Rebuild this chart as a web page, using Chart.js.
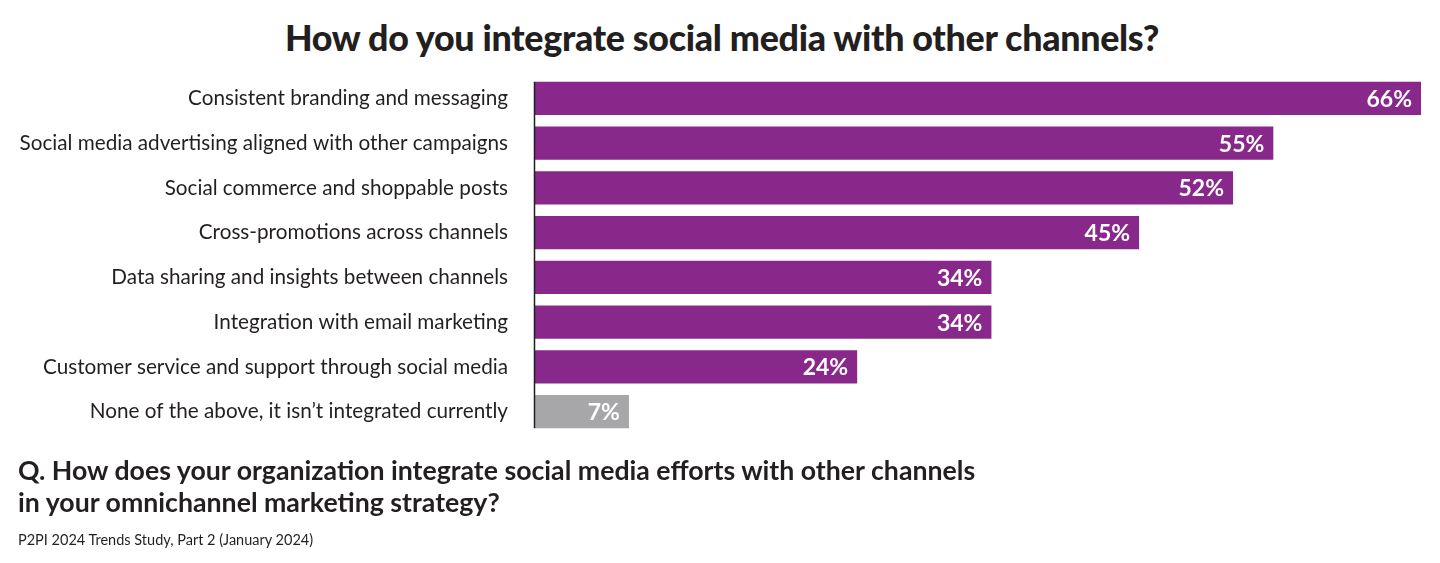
<!DOCTYPE html>
<html><head><meta charset="utf-8">
<script src="https://cdn.jsdelivr.net/npm/chart.js@4.4.1/dist/chart.umd.min.js"></script>
<style>
html,body{margin:0;padding:0;background:#fff;width:1440px;height:563px;overflow:hidden;font-family:Lato,"Open Sans",sans-serif;color:#231f20}
#wrap{position:absolute;left:0;top:0;width:1440px;height:563px}
#title{position:absolute;left:0;top:16px;width:1440px;text-align:center;font-weight:900;font-size:35.8px;letter-spacing:-0.3px;padding-left:2px}
#q{position:absolute;left:18px;top:454px;font-weight:700;font-size:26.7px;line-height:32px}
#src{position:absolute;left:18px;top:531px;font-size:14.5px}
</style></head><body>
<div id="title">How do you integrate social media with other channels?</div>
<div id="wrap"><canvas id="c" width="1440" height="563"></canvas></div>
<div id="q">Q. How does your organization integrate social media efforts with other channels<br>in your omnichannel marketing strategy?</div>
<div id="src">P2PI 2024 Trends Study, Part 2 (January 2024)</div>
<script>
const categories = [
  "Consistent branding and messaging",
  "Social media advertising aligned with other campaigns",
  "Social commerce and shoppable posts",
  "Cross-promotions across channels",
  "Data sharing and insights between channels",
  "Integration with email marketing",
  "Customer service and support through social media",
  "None of the above, it isn\u2019t integrated currently"
];
const values = [66, 55, 52, 45, 34, 34, 24, 7];
const barColors = ["#88288A","#88288A","#88288A","#88288A","#88288A","#88288A","#88288A","#A7A7A9"];

const labelPlugin = {
  id: 'vlabels',
  afterDatasetsDraw(chart) {
    const ctx = chart.ctx;
    const meta = chart.getDatasetMeta(0);
    ctx.save();
    ctx.fillStyle = '#ffffff';
    ctx.font = 'bold 23px Lato, sans-serif';
    ctx.textAlign = 'right';
    ctx.textBaseline = 'middle';
    meta.data.forEach((bar, i) => {
      ctx.fillText(values[i] + '%', bar.x - 9, bar.y + 1);
    });
    const first = meta.data[0], last = meta.data[meta.data.length - 1];
    const x0 = chart.scales.x.getPixelForValue(0);
    ctx.strokeStyle = '#231f20';
    ctx.lineWidth = 1.5;
    ctx.beginPath();
    ctx.moveTo(x0 - 0.5, first.y - first.height / 2);
    ctx.lineTo(x0 - 0.5, last.y + last.height / 2);
    ctx.stroke();
    ctx.restore();
  }
};

new Chart(document.getElementById('c'), {
  type: 'bar',
  data: {
    labels: categories,
    datasets: [{ data: values, backgroundColor: barColors, borderWidth: 0, barPercentage: 0.82, categoryPercentage: 0.9 }]
  },
  options: {
    indexAxis: 'y',
    responsive: false,
    animation: false,
    layout: { padding: { left: 0, right: 19, top: 76, bottom: 129 } },
    plugins: { legend: { display: false }, tooltip: { enabled: false } },
    scales: {
      x: { display: false, min: 0, max: 66 },
      y: {
        grid: { display: false, drawTicks: false },
        border: { display: false },
        ticks: { color: '#231f20', font: { size: 20.7, family: 'Lato, sans-serif' }, padding: 27 },
        afterFit(scale) { scale.width = 535; }
      }
    }
  },
  plugins: [labelPlugin]
});
</script>
</body></html>
